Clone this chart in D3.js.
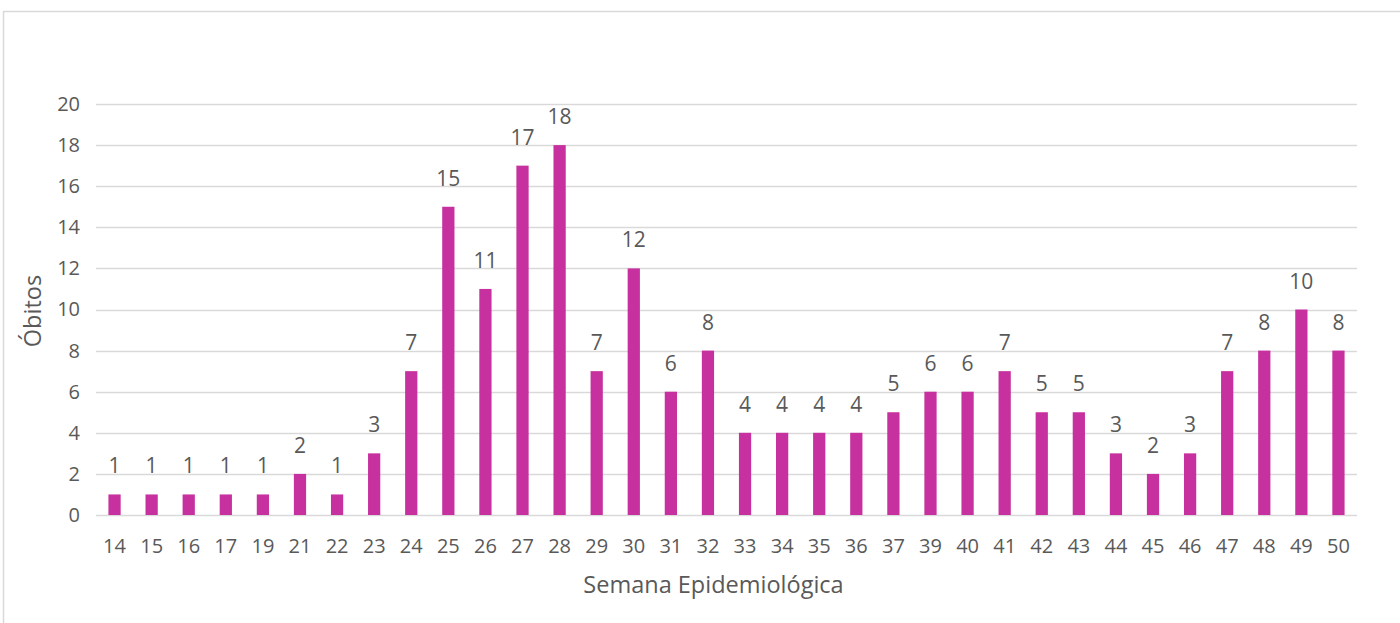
<!DOCTYPE html>
<html>
<head>
<meta charset="utf-8">
<script src="https://cdn.jsdelivr.net/npm/d3@7"></script>
<style>
  body { margin: 0; background: #fff; }
  text { font-family: "Open Sans", "Noto Sans", sans-serif; fill: #595959; }
</style>
</head>
<body>
<div id="chart"></div>
<script>
// Semanas epidemiológicas e óbitos
const weeks = ["14","15","16","17","19","21","22","23","24","25","26","27","28","29","30","31","32","33","34","35","36","37","39","40","41","42","43","44","45","46","47","48","49","50"];
const deaths = [1,1,1,1,1,2,1,3,7,15,11,17,18,7,12,6,8,4,4,4,4,5,6,6,7,5,5,3,2,3,7,8,10,8];
const yTicks = [0,2,4,6,8,10,12,14,16,18,20];

const W = 1400, H = 623;
const margin = { top: 104, right: 43, bottom: 108, left: 96 },
    width = W - margin.left - margin.right,
    height = H - margin.top - margin.bottom;

const root = d3.select("#chart").append("svg")
    .attr("width", W)
    .attr("height", H);

// chart frame
root.append("rect")
    .attr("x", 3.5).attr("y", 11.5)
    .attr("width", W + 20).attr("height", H + 20)
    .attr("fill", "none")
    .attr("stroke", "#d9d9d9")
    .attr("stroke-width", 1.5);

const svg = root.append("g")
    .attr("transform", `translate(${margin.left},${margin.top})`);

const x = d3.scaleBand()
    .domain(weeks)
    .range([0, width])
    .paddingInner(0.67)
    .paddingOuter(0.335);

const y = d3.scaleLinear()
    .domain([0, 20])
    .range([height, 0]);

// gridlines
svg.append("g")
    .selectAll("line")
    .data(yTicks)
    .enter()
    .append("line")
    .attr("x1", 0)
    .attr("x2", width)
    .attr("y1", d => Math.round(y(d)) + 0.5)
    .attr("y2", d => Math.round(y(d)) + 0.5)
    .attr("stroke", "#d9d9d9")
    .attr("stroke-width", 1.3);

// y axis labels
const yAxis = svg.append("g")
    .call(d3.axisLeft(y).tickValues(yTicks).tickSize(0).tickPadding(16));
yAxis.select(".domain").remove();
yAxis.selectAll("text")
    .style("font-size", "20px")
    .attr("fill", "#595959");

// bars
svg.selectAll(".bar")
    .data(weeks)
    .enter()
    .append("rect")
    .attr("class", "bar")
    .attr("x", (d) => x(d))
    .attr("y", (d, i) => y(deaths[i]))
    .attr("width", x.bandwidth())
    .attr("height", (d, i) => height - y(deaths[i]))
    .attr("fill", "#c7309f");

// value labels
svg.selectAll(".lbl")
    .data(weeks)
    .enter()
    .append("text")
    .attr("class", "lbl")
    .attr("x", d => x(d) + x.bandwidth() / 2)
    .attr("y", (d, i) => y(deaths[i]) - 21)
    .attr("text-anchor", "middle")
    .style("font-size", "21px")
    .text((d, i) => deaths[i]);

// x axis
const xAxis = svg.append("g")
    .attr("transform", `translate(0, ${height})`)
    .call(d3.axisBottom(x).tickSize(0).tickPadding(24));
xAxis.select(".domain").remove();
xAxis.selectAll("text")
    .style("font-size", "20px")
    .attr("fill", "#595959");

// axis titles
root.append("text")
    .attr("x", margin.left + width / 2 - 13)
    .attr("y", 593)
    .attr("text-anchor", "middle")
    .style("font-size", "23.5px")
    .text("Semana Epidemiológica");

root.append("text")
    .attr("transform", `translate(41, 311) rotate(-90)`)
    .attr("text-anchor", "middle")
    .style("font-size", "23.5px")
    .text("Óbitos");
</script>
</body>
</html>
